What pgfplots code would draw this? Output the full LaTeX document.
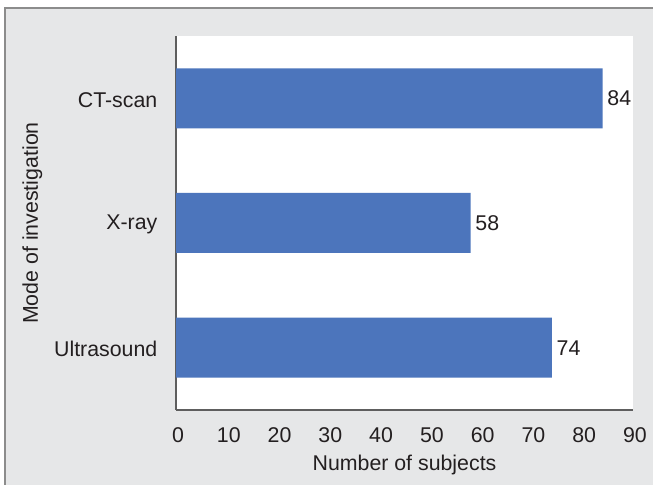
\documentclass[border=0pt]{standalone}
\usepackage{pgfplots}
\pgfplotsset{compat=1.18}
\usepackage{fontspec}
\setmainfont{Liberation Sans}

\definecolor{panel}{HTML}{E6E7E8}
\definecolor{frameline}{HTML}{8C8C8C}
\definecolor{barblue}{HTML}{4C75BC}
\definecolor{axisgray}{HTML}{5E5E5E}
\definecolor{txt}{HTML}{231F20}

\begin{document}
\begin{tikzpicture}
  % page size 653x485 px at 0.75pt per px
  \path[use as bounding box] (0pt,0pt) rectangle (489.75pt,363.75pt);
  \fill[panel] (3pt,0pt) rectangle (489.75pt,358.5pt);
  \draw[frameline, line width=1.4pt] (3.75pt,0pt) -- (3.75pt,357.75pt) -- (489.75pt,357.75pt);

  \begin{axis}[
    at={(132pt,56.25pt)}, anchor=south west,
    scale only axis,
    width=342.75pt, height=280.5pt,
    xbar, bar width=45pt,
    xmin=0, xmax=90,
    ymin=-0.5, ymax=2.5,
    xtick={0,10,...,90},
    ytick={0,1,2},
    yticklabels={Ultrasound,X-ray,CT-scan},
    axis x line*=bottom, axis y line*=left,
    axis line style={axisgray, line width=1pt, -},
    axis background/.style={fill=white},
    major tick length=0pt,
    tick style={draw=none},
    /pgf/number format/assume math mode=true,
    tick label style={font=\fontsize{16}{19}\selectfont, text=txt},
    xticklabel style={yshift=-9.5pt, xshift=1.5pt},
    yticklabel style={xshift=-10.5pt, yshift=-1pt},
    label style={font=\fontsize{16}{19}\selectfont, text=txt},
    xlabel={Number of subjects},
    ylabel={Mode of investigation},
    xlabel style={yshift=-2.5pt},
    ylabel style={yshift=2pt},
    nodes near coords,
    nodes near coords style={font=\fontsize{16}{19}\selectfont, text=txt, anchor=west, inner sep=3.5pt},
    every node near coord/.append style={/pgf/number format/assume math mode=true},
  ]
    \addplot[fill=barblue, draw=none] coordinates {(74,0) (58,1) (84,2)};
  \end{axis}
\end{tikzpicture}
\end{document}
